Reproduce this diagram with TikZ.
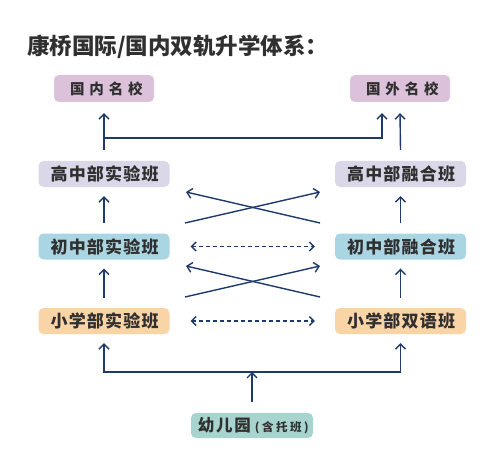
\documentclass[tikz,border=0pt]{standalone}
\usepackage{fontspec}
\setmainfont{Noto Sans CJK SC}
\newfontfamily\wideA{Noto Sans CJK SC}[LetterSpace=33]
\newfontfamily\wideB{Noto Sans CJK SC}[LetterSpace=7]
\newfontfamily\wideC{Noto Sans CJK SC}[LetterSpace=11]
\newfontfamily\wideD{Noto Sans CJK SC}[LetterSpace=22]
\usetikzlibrary{arrows.meta}
\definecolor{navy}{HTML}{1E3A6A}
\definecolor{txt}{HTML}{303030}
\definecolor{cpink}{HTML}{DCC1DA}
\definecolor{clav}{HTML}{DAD8E8}
\definecolor{cblue}{HTML}{AAD6E4}
\definecolor{corange}{HTML}{F8D4A6}
\definecolor{cteal}{HTML}{A7D4CE}
\begin{document}
\begin{tikzpicture}[x=1pt,y=-1pt,
  arr/.style={draw=navy, line width=1.4pt, -{Straight Barb[length=5pt,width=10pt,line width=1.4pt]}},
  darr/.style={draw=navy, line width=1.3pt, dash pattern=on 4pt off 3pt, {Straight Barb[length=4.5pt,width=9pt,line width=1.3pt]}-{Straight Barb[length=4.5pt,width=9pt,line width=1.3pt]}},
  box/.style={rounded corners=5pt, minimum height=26pt, minimum width=131pt, text=txt, inner sep=0pt, font=\wideB\bfseries\fontsize{17}{17}\selectfont},
  topbox/.style={box, fill=cpink, minimum width=100pt, minimum height=27pt, font=\wideA\bfseries\fontsize{14.5}{14.5}\selectfont},
]
\useasboundingbox (0,0) rectangle (500,465);
\node[anchor=west, text=txt, font=\bfseries\fontsize{22.5}{22.5}\selectfont, inner sep=0pt] (title) at (27,47) {康桥国际/国内双轨升学体系：};

\node[topbox] (gn) at (104,88.5) {国内名校\kern-0.33em};
\node[topbox] (gw) at (400,88.5) {国外名校\kern-0.33em};

\node[box, fill=clav] (g1) at (104,174) {高中部实验班\kern-0.07em};
\node[box, fill=clav] (g2) at (400.5,174) {高中部融合班\kern-0.07em};
\node[box, fill=cblue] (c1) at (104,246.5) {初中部实验班\kern-0.07em};
\node[box, fill=cblue] (c2) at (400.5,246.5) {初中部融合班\kern-0.07em};
\node[box, fill=corange] (x1) at (104,321) {小学部实验班\kern-0.07em};
\node[box, fill=corange] (x2) at (400.5,321) {小学部双语班\kern-0.07em};

\node[box, fill=cteal, minimum width=122pt, minimum height=25pt, font=\bfseries] (k) at (252,425.5)
  {{\wideC\fontsize{16.5}{16.5}\selectfont 幼儿园}\hspace{4pt}{\wideD\fontsize{11.5}{11.5}\selectfont (含托班)\kern-0.22em}};

% top connectors
\coordinate (j1) at (104,138);
\draw[arr] ([yshift=11pt]g1.north) -- ([yshift=-11pt]gn.south);
\draw[arr] (j1) -| ([xshift=-18pt,yshift=-11pt]gw.south);
\draw[arr] ([yshift=11pt]g2.north) -- ([yshift=-11pt]gw.south);

% verticals
\draw[arr] ([yshift=10pt]c1.north) -- ([yshift=-9pt]g1.south);
\draw[arr] ([yshift=10pt]x1.north) -- ([yshift=-9pt]c1.south);
\draw[arr] ([yshift=10pt]c2.north) -- ([yshift=-9pt]g2.south);
\draw[arr] ([yshift=10pt]x2.north) -- ([yshift=-9pt]c2.south);

% crossings
\coordinate (p1) at (185,223);
\coordinate (p2) at (320,192);
\coordinate (p3) at (320,223);
\coordinate (p4) at (186,192);
\draw[arr] (p1) -- (p2);
\draw[arr] (p3) -- (p4);
\coordinate (q1) at (185,297);
\coordinate (q2) at (320,266);
\coordinate (q3) at (320,297);
\coordinate (q4) at (186,266);
\draw[arr] (q1) -- (q2);
\draw[arr] (q3) -- (q4);

% dashed
\draw[darr] ([xshift=21pt]c1.east) -- ([xshift=-20pt]c2.west);
\draw[darr] ([xshift=21pt]x1.east) -- ([xshift=-20pt]x2.west);

% bottom
\coordinate (j2) at (252,372);
\draw[arr] ([yshift=11pt]k.north) -- (j2);
\draw[arr] (j2) -| ([yshift=-9pt]x1.south);
\draw[arr] (j2) -| ([yshift=-9pt]x2.south);
\end{tikzpicture}
\end{document}
